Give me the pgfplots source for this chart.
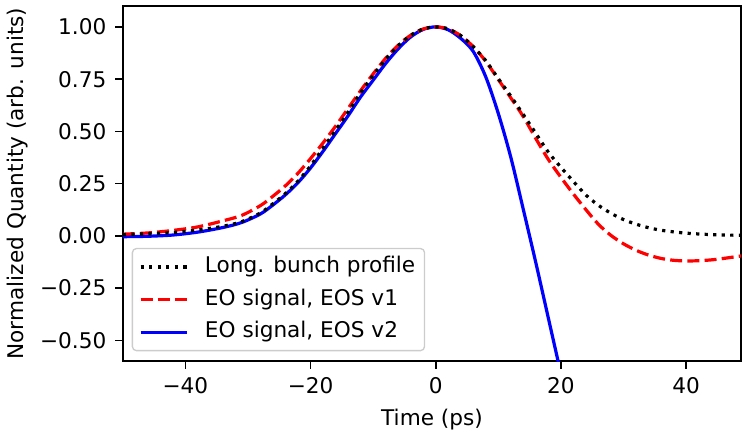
\documentclass[border=0pt]{standalone}
\usepackage{fontspec}
\setmainfont{DejaVu Sans}
\usepackage{pgfplots}
\pgfplotsset{compat=1.18}
\usepackage{pgfplotstable}
\definecolor{legendgray}{HTML}{CCCCCC}
\pgfplotstableread{
x y
-50 0.006
-46 0.010
-42 0.016
-38 0.028
-34 0.046
-31 0.068
-28 0.110
-26 0.154
-24 0.203
-22 0.262
-20 0.335
-18 0.420
-16 0.505
-14 0.592
-12 0.685
-10 0.768
-8 0.845
-6 0.910
-4 0.960
-2 0.990
0 1.000
2 0.990
4 0.958
6 0.905
8 0.838
10 0.752
12 0.668
14 0.580
16 0.490
18 0.400
20 0.328
22 0.260
24 0.195
26 0.146
28 0.108
30 0.078
32 0.056
34 0.039
36 0.027
38 0.019
40 0.013
42 0.009
44 0.006
46 0.004
48.8 0.003
}\profile
\pgfplotstableread{
x y
-50 0.008
-46 0.014
-42 0.026
-38 0.043
-34 0.072
-31 0.098
-28 0.145
-26 0.190
-24 0.240
-22 0.300
-20 0.370
-18 0.445
-16 0.525
-14 0.610
-12 0.695
-10 0.775
-8 0.850
-6 0.912
-4 0.960
-2 0.990
0 1.000
2 0.990
4 0.958
6 0.905
8 0.835
10 0.748
12 0.660
14 0.570
16 0.465
18 0.365
20 0.280
22 0.200
24 0.125
26 0.055
28 0.002
30 -0.038
32 -0.069
34 -0.092
36 -0.108
38 -0.117
40 -0.120
42 -0.119
44 -0.115
46 -0.108
48.8 -0.096
}\eosone
\pgfplotstableread{
x y
-50 -0.004
-46 -0.002
-42 0.004
-38 0.018
-34 0.040
-31 0.064
-28 0.105
-26 0.148
-24 0.197
-22 0.255
-20 0.325
-18 0.405
-16 0.490
-14 0.575
-12 0.665
-10 0.745
-8 0.825
-6 0.895
-4 0.952
-2 0.988
0 1.000
2 0.986
4 0.945
6 0.882
8 0.760
10 0.585
12 0.375
14 0.125
16 -0.130
18 -0.395
20 -0.660
}\eostwo
\begin{document}
\fontsize{16.2pt}{19.4pt}\selectfont
\begin{tikzpicture}
\begin{axis}[
  scale only axis,
  width=463.5pt, height=266.25pt,
  xmin=-50, xmax=48.8, ymin=-0.6, ymax=1.1,
  axis line style={line width=1.2pt},
  xtick={-40,-20,0,20,40},
  xticklabels={−40,−20,0,20,40},
  ytick={-0.5,-0.25,0,0.25,0.5,0.75,1.0},
  yticklabels={−0.50,−0.25,0.00,0.25,0.50,0.75,1.00},
  tick align=outside, tick pos=left,
  major tick length=5.7pt,
  every tick/.style={black, line width=1.2pt},
  xticklabel style={yshift=-1pt},
  yticklabel style={xshift=-1pt},
  xlabel={Time (ps)},
  ylabel={Normalized Quantity (arb. units)},
  ylabel style={yshift=-2pt},
  legend cell align=left,
  legend image code/.code={\draw[#1] (0pt,0pt) -- (35pt,0pt);},
  legend style={at={(0.0145,0.028)}, anchor=south west,
    draw=legendgray, line width=1pt, rounded corners=3pt, fill=white,
    inner xsep=5pt, inner ysep=4.1pt, row sep=4.9pt,
    /tikz/every odd column/.append style={column sep=10pt},
    nodes={text height=12pt, text depth=3.5pt, inner ysep=2pt, inner xsep=2pt}},
]
\addlegendimage{black, line width=2.4pt, dash pattern=on 2.4pt off 4pt}
\addlegendentry{Long. bunch profile}
\addlegendimage{red, line width=2.4pt, dash pattern=on 9pt off 3.9pt}
\addlegendentry{EO signal, EOS v1}
\addlegendimage{blue, line width=2.4pt}
\addlegendentry{EO signal, EOS v2}
\addplot[blue, line width=2.4pt, smooth, forget plot] table[x=x,y=y] {\eostwo};
\addplot[red, line width=2.4pt, dash pattern=on 9pt off 3.9pt, smooth, forget plot] table[x=x,y=y] {\eosone};
\addplot[black, line width=2.4pt, dash pattern=on 2.4pt off 4pt, smooth, forget plot] table[x=x,y=y] {\profile};
\end{axis}
\path ([yshift=4.5pt]current axis.north);
\end{tikzpicture}
\end{document}
